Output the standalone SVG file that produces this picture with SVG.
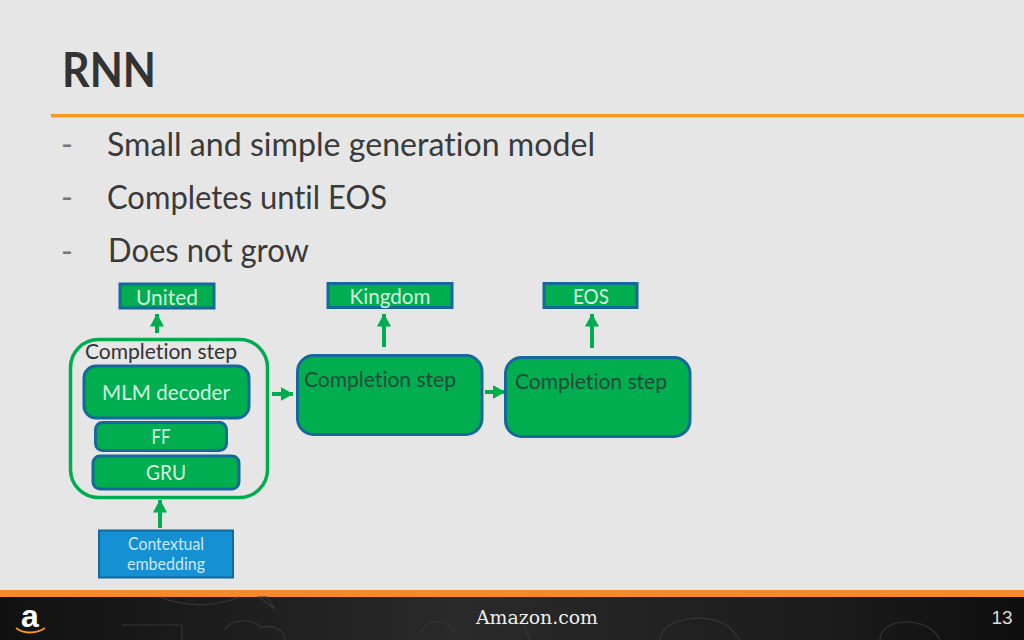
<svg xmlns="http://www.w3.org/2000/svg" width="1024" height="640" viewBox="0 0 1024 640">
<defs>
<linearGradient id="foot" x1="0" y1="0" x2="1" y2="0"><stop offset="0" stop-color="#111"/><stop offset="0.45" stop-color="#2a2a2a"/><stop offset="0.8" stop-color="#1c1c1c"/><stop offset="1" stop-color="#0e0e0e"/></linearGradient>
<marker id="ah" markerUnits="userSpaceOnUse" markerWidth="14" markerHeight="14" refX="12.5" refY="7" orient="auto"><path d="M0 0L13 7L0 14Z" fill="#00ac50"/></marker>
</defs>
<style>
text{font-family:Lato,"Open Sans","Liberation Sans",sans-serif;font-variant-ligatures:none}
.box{fill:#00ae50;stroke:#14689a;stroke-width:3}
.lt{fill:#d4f2e0;font-size:21px;text-anchor:middle}
.dk{fill:#1f4a38;font-size:21px}
.body{fill:#3a3a3a;font-size:32px}
.dash{fill:#777;font-size:32px}
.arr{stroke:#00ac50;stroke-width:4;fill:none;marker-end:url(#ah)}
.doodle{fill:none;stroke:#363636;stroke-width:1.2}
</style>
<rect width="1024" height="640" fill="#e6e6e6"/>
<g id="header">
<text x="62" y="87" font-size="48" font-weight="700" fill="#333" textLength="94" lengthAdjust="spacingAndGlyphs">RNN</text>
<rect x="51" y="114" width="973" height="3.4" fill="#f39a1e"/>
</g>
<g id="bullets">
<text class="dash" x="61" y="156">-</text>
<text class="body" x="107" y="156" textLength="488" lengthAdjust="spacingAndGlyphs">Small and simple generation model</text>
<text class="dash" x="61" y="209">-</text>
<text class="body" x="107" y="209" textLength="280" lengthAdjust="spacingAndGlyphs">Completes until EOS</text>
<text class="dash" x="61" y="263">-</text>
<text class="body" x="108" y="262" textLength="201" lengthAdjust="spacingAndGlyphs">Does not grow</text>
</g>
<g id="connectors">
<path class="arr" d="M157 333V314"/>
<path class="arr" d="M384 347V314"/>
<path class="arr" d="M592 348V314"/>
<path class="arr" d="M160 528V500"/>
<path class="arr" d="M272 394H293"/>
<path class="arr" d="M485 392H505"/>
</g>
<g id="united"><rect class="box" x="120" y="284" width="94" height="24"/><text class="lt" x="167" y="305" textLength="62" lengthAdjust="spacingAndGlyphs">United</text></g>
<g id="kingdom"><rect class="box" x="328" y="283.500" width="124" height="24"/><text class="lt" x="390" y="304" textLength="81" lengthAdjust="spacingAndGlyphs">Kingdom</text></g>
<g id="eos"><rect class="box" x="544" y="283.500" width="93" height="24"/><text class="lt" x="591" y="304" textLength="36" lengthAdjust="spacingAndGlyphs">EOS</text></g>
<g id="step1">
<rect x="70.500" y="339.500" width="197" height="158" rx="28" fill="none" stroke="#00ac50" stroke-width="3.500"/>
<text x="85" y="359" font-size="21" fill="#333" textLength="152" lengthAdjust="spacingAndGlyphs">Completion step</text>
</g>
<g id="mlm"><rect class="box" x="84" y="366" width="165" height="52" rx="12"/><text class="lt" x="166" y="400" textLength="128" lengthAdjust="spacingAndGlyphs">MLM decoder</text></g>
<g id="ff"><rect class="box" x="95.500" y="422.500" width="131" height="28" rx="7"/><text class="lt" x="161" y="444" textLength="19" lengthAdjust="spacingAndGlyphs">FF</text></g>
<g id="gru"><rect class="box" x="93" y="456" width="146" height="33" rx="7"/><text class="lt" x="166" y="480" textLength="40" lengthAdjust="spacingAndGlyphs">GRU</text></g>
<g id="embedding"><rect x="99" y="530.500" width="134" height="47" fill="#1590d3" stroke="#14689a" stroke-width="2"/>
<text x="166" y="550" font-size="17" fill="#cfe9f7" text-anchor="middle" textLength="76" lengthAdjust="spacingAndGlyphs">Contextual</text>
<text x="166" y="570" font-size="17" fill="#cfe9f7" text-anchor="middle" textLength="78" lengthAdjust="spacingAndGlyphs">embedding</text></g>
<g id="step2"><rect class="box" x="297.500" y="355.500" width="184.500" height="79" rx="16"/><text class="dk" x="304" y="387" textLength="152" lengthAdjust="spacingAndGlyphs">Completion step</text></g>
<g id="step3"><rect class="box" x="505.500" y="357.500" width="184.500" height="79" rx="16"/><text class="dk" x="515" y="389" textLength="152" lengthAdjust="spacingAndGlyphs">Completion step</text></g>
<g id="footer">
<rect y="590" width="1024" height="7" fill="#f58a2c"/>
<rect y="597" width="1024" height="43" fill="url(#foot)"/>
<path class="doodle" d="M122 625h60v15M225 630c5-12 30-12 36-2 12-4 24 2 24 12M160 597c30 12 60 8 80 0M275 609l-8-12h-8zM420 632c8-14 28-14 34 0M500 625l22-6 8 21M660 640c0-22 50-30 70-12l10 12M880 640c0-24 50-24 60 0"/>
<text x="30" y="627" font-size="32" font-weight="700" fill="#fff" text-anchor="middle" style="font-family:'Liberation Sans',sans-serif">a</text>
<path d="M16 628c8 6 20 6 29 0" fill="none" stroke="#f39a1e" stroke-width="1.800"/>
<text x="537" y="624" font-size="18" fill="#eee" text-anchor="middle" style="font-family:'DejaVu Serif','Liberation Serif',serif" textLength="122" lengthAdjust="spacingAndGlyphs">Amazon.com</text>
<text x="1002" y="624" font-size="19" fill="#ddd" text-anchor="middle" style="font-family:'Liberation Sans',sans-serif">13</text>
</g>
</svg>
